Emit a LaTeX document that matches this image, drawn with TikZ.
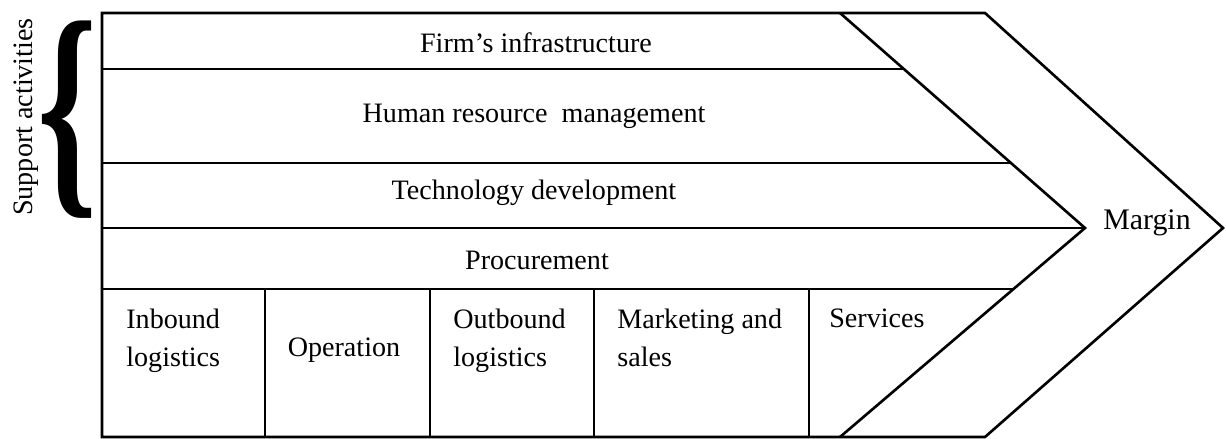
\documentclass[tikz,border=0pt]{standalone}
\usepackage{fontspec}
\setmainfont{Liberation Serif}
\usepackage{graphicx}

\tikzset{
  chain/.style={line width=1.5pt, line join=miter},
  lbl/.style={font=\fontsize{16}{22}\selectfont, inner sep=0pt},
}

\begin{document}
\begin{tikzpicture}[x=0.02cm, y=0.02cm]
    \useasboundingbox (0,0) rectangle (1226,439);
    \def\Lx{102}
    \def\Top{426}
    \def\Bot{2}

    % Chevron corners
    \coordinate (inTop) at (840,\Top);
    \coordinate (inTip) at (1085,211);
    \coordinate (inBot) at (840,\Bot);
    \coordinate (outTop) at (985,\Top);
    \coordinate (outTip) at (1223,211);
    \coordinate (outBot) at (985,\Bot);

    % Outline and inner chevron
    \draw[chain] (\Lx,\Bot) -- (\Lx,\Top) -- (outTop) -- (outTip) -- (outBot) -- cycle;
    \draw[chain] (inTop) -- (inTip) -- (inBot);

    % Support activity rows, each ending on the inner chevron
    \foreach \y/\xe in {370/903.8,276/1010.9,211/1085,150/1013.5} {
        \draw[chain] (\Lx,\y) -- (\xe,\y);
    }

    % Primary activity columns
    \foreach \x in {265,430,594,809} {
        \draw[chain] (\x,\Bot) -- (\x,150);
    }

    % Labels
    \node[lbl, anchor=base] (firm) at (536,386) {Firm's infrastructure};
    \node[lbl, anchor=base] (hrm) at (534,316) {Human resource \ management};
    \node[lbl, anchor=base] (tech) at (534,239) {Technology development};
    \node[lbl, anchor=base] (proc) at (537,169) {Procurement};

    \node[lbl, anchor=base west, align=left] (inbound) at (126,72) {Inbound\\logistics};
    \node[lbl, anchor=base] (oper) at (344,82) {Operation};
    \node[lbl, anchor=base west, align=left] (outbound) at (453,72) {Outbound\\logistics};
    \node[lbl, anchor=base west, align=left] (marketing) at (617,72) {Marketing and\\sales};
    \node[lbl, anchor=base west] (services) at (829,111) {Services};
    \node[lbl, anchor=base, font=\fontsize{17}{22}\selectfont] (margin) at (1147,209) {Margin};

    % Brace for the support rows
    \node[inner sep=0pt] (brace) at (68,319) {\resizebox*{1.2cm}{3.95cm}{\bfseries\{}};
    \node[lbl, rotate=90, anchor=base] (support) at (33,322) {Support activities};
\end{tikzpicture}
\end{document}
